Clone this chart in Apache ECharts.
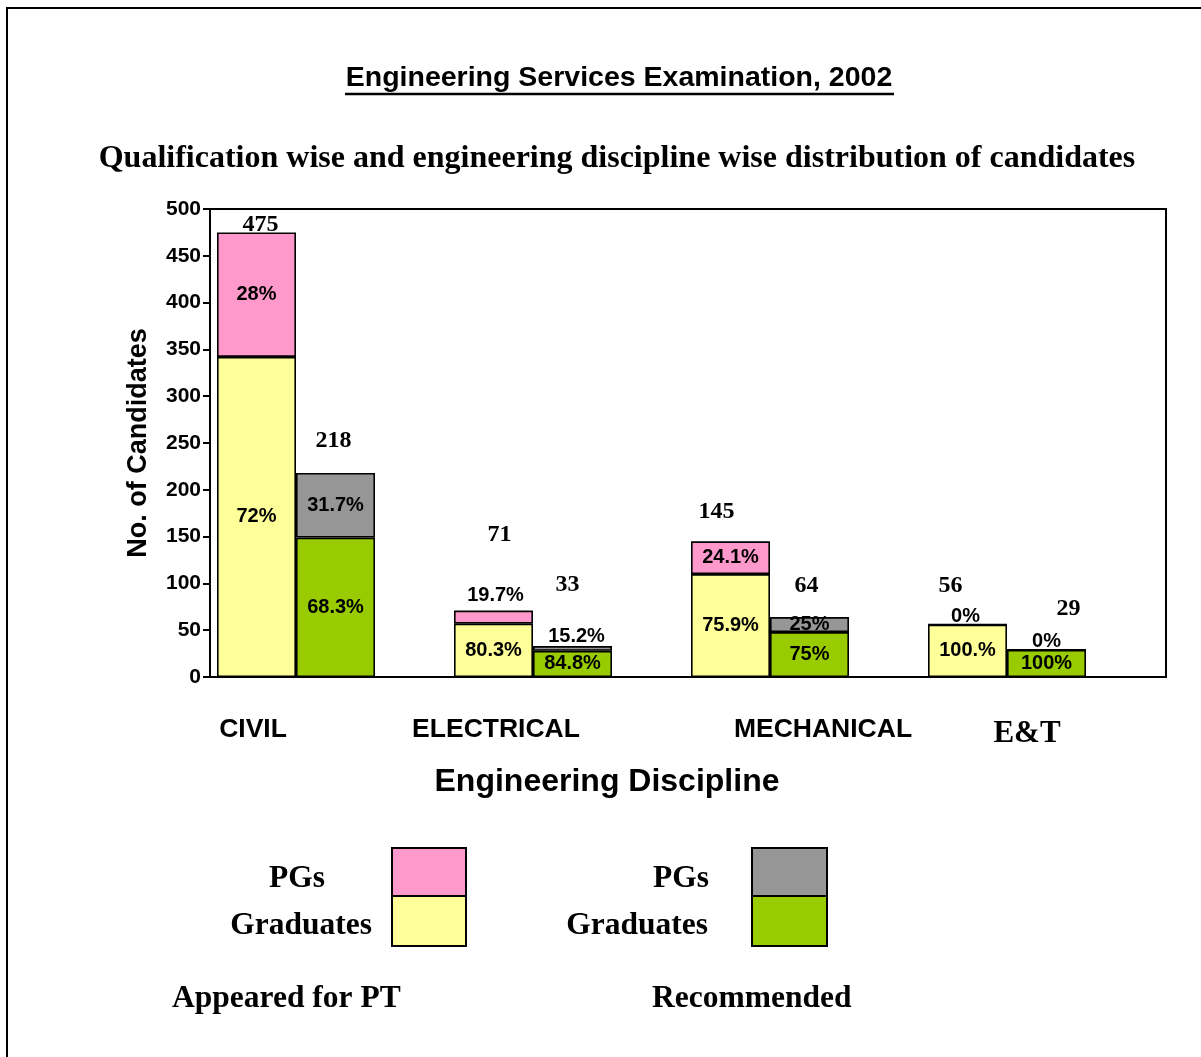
<!DOCTYPE html>
<html>
<head>
<meta charset="utf-8">
<script src="https://cdn.jsdelivr.net/npm/echarts@6/dist/echarts.min.js"></script>
<style>
  html, body { margin: 0; padding: 0; background: #fff; }
  #chart { width: 1201px; height: 1057px; }
</style>
</head>
<body>
<div id="chart"></div>
<script>
// 类别 / disciplines
var categories = ['CIVIL', 'ELECTRICAL', 'MECHANICAL', 'E&T'];

// Appeared for PT
var appearedGrad = [342, 57, 110, 56];
var appearedPG = [133, 14, 35, 0];
var appearedTotal = [475, 71, 145, 56];
var appearedGradPct = ['72%', '80.3%', '75.9%', '100.%'];
var appearedPGPct = ['28%', '19.7%', '24.1%', '0%'];

// Recommended
var recGrad = [149, 28, 48, 29];
var recPG = [69, 5, 16, 0];
var recTotal = [218, 33, 64, 29];
var recGradPct = ['68.3%', '84.8%', '75%', '100%'];
var recPGPct = ['31.7%', '15.2%', '25%', '0%'];

// y axis ticks
var yMin = 0, yMax = 500, yStep = 50;

// label nudges (the original labels were dragged by hand)
var appearedTotalShift = [[4, 9], [6, -59], [-14, -12], [-17, -22]];
var recTotalShift = [[-2, -15], [-5, -44], [-3, -14], [22, -24]];
var appearedPGLabel = [null, [2, 0], null, [-2, 8]];
var recPGLabel = [null, [4, 5], null, [0, 7]];

var SANS = 'Liberation Sans, Arial, sans-serif';
var SERIF = 'Liberation Serif, Times New Roman, serif';

var pctLabel = { show: true, position: 'inside', color: '#000', fontFamily: SANS, fontWeight: 'bold', fontSize: 20 };
var barBorder = { borderColor: '#000', borderWidth: 1.6 };

function segData (vals, moves) {
  return vals.map(function (v, i) {
    var item = { value: v };
    if (moves && moves[i]) {
      item.label = { position: 'top', offset: moves[i], distance: 5 };
    }
    return item;
  });
}
function pctFormatter (pcts) {
  return function (p) { return pcts[p.dataIndex]; };
}
function totalSeries (stack, totals, shifts) {
  return {
    name: stack + ' total',
    type: 'bar',
    stack: stack,
    barWidth: 79,
    barGap: '0%',
    silent: true,
    itemStyle: { color: 'rgba(0,0,0,0)', borderWidth: 0 },
    data: totals.map(function (t, i) {
      return {
        value: 0,
        label: { show: true, position: 'top', distance: 5, offset: shifts[i], formatter: String(t) }
      };
    }),
    label: { show: true, color: '#000', fontFamily: SERIF, fontWeight: 'bold', fontSize: 24 }
  };
}

var chart = echarts.init(document.getElementById('chart'));

var option = {
  animation: false,
  backgroundColor: '#fff',
  grid: [
    { left: 217, top: 209, width: 948, height: 468 },
    { left: 210, top: 209, width: 956, height: 468, show: true, borderColor: '#000', borderWidth: 2, backgroundColor: 'rgba(0,0,0,0)' }
  ],
  xAxis: [{
    type: 'category',
    gridIndex: 0,
    data: categories,
    axisLine: { show: false },
    axisTick: { show: false },
    axisLabel: { show: false }
  }, {
    type: 'value', gridIndex: 1, show: false
  }],
  yAxis: [{
    type: 'value',
    gridIndex: 0,
    min: yMin,
    max: yMax,
    interval: yStep,
    offset: 7,
    axisLine: { show: true, lineStyle: { color: '#000', width: 2 } },
    axisTick: { show: true, length: 7, inside: false, lineStyle: { color: '#000', width: 2 } },
    splitLine: { show: false },
    axisLabel: { color: '#000', fontFamily: SANS, fontWeight: 'bold', fontSize: 21, margin: 9 },
    name: 'No. of Candidates',
    nameLocation: 'middle',
    nameGap: 58,
    nameTextStyle: { color: '#000', fontFamily: SANS, fontWeight: 'bold', fontSize: 27 }
  }, {
    type: 'value', gridIndex: 1, show: false
  }],
  series: [{
    name: 'Appeared Graduates',
    type: 'bar', stack: 'appeared', barWidth: 79, barGap: '0%',
    itemStyle: Object.assign({ color: '#FFFF99' }, barBorder),
    label: Object.assign({ formatter: pctFormatter(appearedGradPct) }, pctLabel),
    data: segData(appearedGrad)
  }, {
    name: 'Appeared PGs',
    type: 'bar', stack: 'appeared', barWidth: 79, barGap: '0%',
    itemStyle: Object.assign({ color: '#FF99CC' }, barBorder),
    label: Object.assign({ formatter: pctFormatter(appearedPGPct) }, pctLabel),
    data: segData(appearedPG, appearedPGLabel)
  },
  totalSeries('appeared', appearedTotal, appearedTotalShift),
  {
    name: 'Recommended Graduates',
    type: 'bar', stack: 'rec', barWidth: 79, barGap: '0%',
    itemStyle: Object.assign({ color: '#99CC00' }, barBorder),
    label: Object.assign({ formatter: pctFormatter(recGradPct) }, pctLabel),
    data: segData(recGrad)
  }, {
    name: 'Recommended PGs',
    type: 'bar', stack: 'rec', barWidth: 79, barGap: '0%',
    itemStyle: Object.assign({ color: '#969696' }, barBorder),
    label: Object.assign({ formatter: pctFormatter(recPGPct) }, pctLabel),
    data: segData(recPG, recPGLabel)
  },
  totalSeries('rec', recTotal, recTotalShift),
  {
    // empty slot so each pair sits at the left of its category
    name: 'pad',
    type: 'bar', stack: 'pad', barWidth: 79, barGap: '0%', silent: true,
    itemStyle: { color: 'rgba(0,0,0,0)', borderWidth: 0 },
    data: [0, 0, 0, 0]
  }],
  graphic: []
};

// texts and the hand-made legend
var catLabelX = [253, 496, 823, 1027];
var g = option.graphic;
function txt (s, x, y, font, align) {
  g.push({ type: 'text', silent: true, style: {
    text: s, x: x, y: y, font: font, fill: '#000',
    textAlign: align || 'center', textVerticalAlign: 'middle', align: align || 'center', verticalAlign: 'middle'
  } });
}
// outer frame
g.push({ type: 'polyline', silent: true, shape: { points: [[7, 1057], [7, 8], [1201, 8]] }, style: { stroke: '#000', lineWidth: 2, fill: null } });

txt('Engineering Services Examination, 2002', 619, 78, 'bold 28.5px ' + SANS);
g.push({ type: 'line', silent: true, shape: { x1: 345, y1: 94, x2: 894, y2: 94 }, style: { stroke: '#000', lineWidth: 2.5 } });
txt('Qualification wise and engineering discipline wise distribution of candidates', 617, 159, 'bold 32px ' + SERIF);

categories.forEach(function (c, i) {
  if (c === 'E&T') txt(c, catLabelX[i], 734, 'bold 31px ' + SERIF);
  else txt(c, catLabelX[i], 730, 'bold 26.5px ' + SANS);
});
txt('Engineering Discipline', 607, 782, 'bold 32px ' + SANS);

// legend: appeared
txt('PGs', 325, 879, 'bold 31.5px ' + SERIF, 'right');
txt('Graduates', 372, 926, 'bold 31.5px ' + SERIF, 'right');
g.push({ type: 'rect', silent: true, shape: { x: 392, y: 848, width: 74, height: 48 }, style: { fill: '#FF99CC', stroke: '#000', lineWidth: 2 } });
g.push({ type: 'rect', silent: true, shape: { x: 392, y: 896, width: 74, height: 50 }, style: { fill: '#FFFF99', stroke: '#000', lineWidth: 2 } });
txt('Appeared for PT', 172, 999, 'bold 31.5px ' + SERIF, 'left');
// legend: recommended
txt('PGs', 709, 879, 'bold 31.5px ' + SERIF, 'right');
txt('Graduates', 708, 926, 'bold 31.5px ' + SERIF, 'right');
g.push({ type: 'rect', silent: true, shape: { x: 752, y: 848, width: 75, height: 48 }, style: { fill: '#969696', stroke: '#000', lineWidth: 2 } });
g.push({ type: 'rect', silent: true, shape: { x: 752, y: 896, width: 75, height: 50 }, style: { fill: '#99CC00', stroke: '#000', lineWidth: 2 } });
txt('Recommended', 652, 999, 'bold 31.5px ' + SERIF, 'left');

chart.setOption(option);
</script>
</body>
</html>
